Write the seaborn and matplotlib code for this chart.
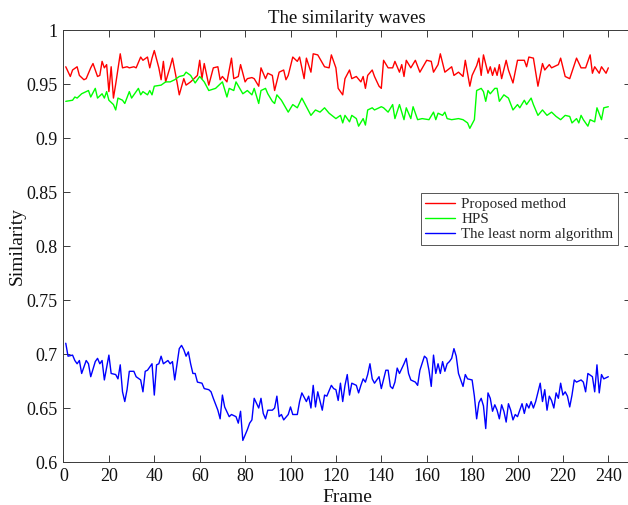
import matplotlib
matplotlib.use("Agg")
import matplotlib.pyplot as plt
import seaborn as sns
import pandas as pd

# ---------------- data ----------------
red_frames = [1, 3, 4, 6, 7, 9, 10, 12, 13, 15, 16, 17, 18, 19, 20, 21, 22, 23, 25, 26,
              28, 29, 31, 32, 34, 35, 37, 38, 39, 40, 42, 43, 44, 45, 47, 48, 50, 51, 53, 54,
              56, 59, 60, 61, 62, 64, 66, 68, 69, 70, 72, 74, 75, 77, 78, 80, 81, 83, 84, 86,
              87, 89, 90, 92, 93, 95, 97, 98, 99, 101, 103, 104, 106, 107, 109, 110, 112, 115, 117, 118,
              120, 121, 123, 124, 126, 127, 129, 131, 132, 133, 134, 136, 137, 139, 140, 141, 143, 145, 146, 148,
              149, 150, 151, 153, 155, 157, 160, 162, 163, 165, 166, 168, 171, 172, 174, 176, 177, 179, 180, 182,
              183, 184, 185, 187, 188, 189, 190, 191, 192, 193, 195, 196, 198, 200, 203, 204, 205, 207, 209, 211,
              212, 214, 215, 218, 219, 221, 223, 226, 228, 230, 232, 233, 234, 236, 237, 239, 240]
red_vals = [0.966, 0.957, 0.963, 0.966, 0.958, 0.954, 0.955, 0.965, 0.969, 0.957, 0.958, 0.971, 0.965, 0.968, 0.943, 0.966, 0.937, 0.950, 0.978, 0.965,
            0.966, 0.965, 0.966, 0.965, 0.975, 0.972, 0.975, 0.965, 0.974, 0.981, 0.965, 0.954, 0.971, 0.952, 0.966, 0.974, 0.952, 0.940, 0.955, 0.949,
            0.952, 0.958, 0.972, 0.955, 0.969, 0.949, 0.965, 0.966, 0.954, 0.957, 0.952, 0.974, 0.955, 0.957, 0.968, 0.952, 0.955, 0.956, 0.955, 0.948,
            0.965, 0.955, 0.960, 0.958, 0.944, 0.961, 0.963, 0.954, 0.958, 0.975, 0.971, 0.975, 0.955, 0.974, 0.961, 0.978, 0.977, 0.966, 0.965, 0.977,
            0.965, 0.946, 0.940, 0.955, 0.963, 0.955, 0.957, 0.952, 0.957, 0.946, 0.958, 0.963, 0.957, 0.948, 0.946, 0.972, 0.965, 0.965, 0.971, 0.961,
            0.968, 0.957, 0.972, 0.965, 0.972, 0.961, 0.972, 0.971, 0.961, 0.968, 0.978, 0.961, 0.966, 0.958, 0.961, 0.957, 0.972, 0.948, 0.958, 0.967,
            0.974, 0.958, 0.977, 0.960, 0.966, 0.958, 0.965, 0.958, 0.968, 0.955, 0.972, 0.963, 0.951, 0.972, 0.972, 0.966, 0.975, 0.974, 0.948, 0.969,
            0.963, 0.968, 0.965, 0.968, 0.974, 0.957, 0.955, 0.974, 0.965, 0.965, 0.977, 0.960, 0.966, 0.960, 0.966, 0.960, 0.965]

green_frames = [1, 4, 5, 6, 8, 10, 11, 12, 14, 15, 17, 18, 19, 20, 22, 23, 24, 26, 27, 29,
                30, 31, 33, 34, 35, 37, 38, 39, 40, 43, 45, 47, 49, 51, 53, 54, 56, 58, 60, 62,
                64, 67, 70, 72, 73, 75, 76, 79, 81, 83, 84, 86, 87, 89, 90, 92, 93, 94, 96, 99,
                101, 103, 105, 107, 109, 111, 113, 115, 117, 120, 122, 123, 124, 126, 127, 129, 130, 132, 133, 134,
                136, 137, 140, 141, 143, 145, 146, 148, 150, 151, 153, 154, 156, 158, 161, 163, 164, 165, 167, 168,
                169, 171, 174, 176, 178, 179, 181, 182, 184, 185, 186, 187, 188, 190, 191, 192, 194, 196, 198, 200,
                201, 203, 204, 206, 207, 209, 211, 213, 215, 217, 219, 221, 223, 224, 226, 227, 228, 229, 231, 232,
                234, 235, 237, 238, 240]
green_vals = [0.934, 0.935, 0.938, 0.937, 0.941, 0.943, 0.944, 0.938, 0.946, 0.937, 0.941, 0.937, 0.943, 0.935, 0.931, 0.926, 0.937, 0.935, 0.932, 0.943,
              0.937, 0.940, 0.946, 0.940, 0.943, 0.940, 0.944, 0.940, 0.948, 0.949, 0.952, 0.952, 0.954, 0.957, 0.958, 0.961, 0.958, 0.951, 0.957, 0.952,
              0.944, 0.946, 0.952, 0.938, 0.946, 0.944, 0.952, 0.941, 0.944, 0.940, 0.946, 0.932, 0.944, 0.946, 0.941, 0.934, 0.932, 0.940, 0.935, 0.924,
              0.931, 0.928, 0.937, 0.929, 0.921, 0.926, 0.924, 0.928, 0.923, 0.918, 0.921, 0.914, 0.921, 0.915, 0.921, 0.918, 0.911, 0.918, 0.912, 0.926,
              0.928, 0.926, 0.929, 0.928, 0.924, 0.931, 0.918, 0.931, 0.917, 0.928, 0.918, 0.929, 0.917, 0.918, 0.917, 0.924, 0.917, 0.923, 0.921, 0.924,
              0.918, 0.917, 0.918, 0.917, 0.914, 0.909, 0.917, 0.944, 0.946, 0.943, 0.934, 0.944, 0.941, 0.946, 0.946, 0.934, 0.940, 0.937, 0.926, 0.931,
              0.928, 0.935, 0.931, 0.937, 0.931, 0.921, 0.926, 0.921, 0.924, 0.920, 0.917, 0.921, 0.920, 0.914, 0.918, 0.914, 0.921, 0.917, 0.911, 0.917,
              0.915, 0.928, 0.917, 0.928, 0.929]

blue_frames = [1, 2, 4, 5, 6, 7, 8, 10, 11, 12, 14, 15, 16, 17, 18, 20, 21, 23, 24, 25,
               26, 27, 28, 29, 31, 32, 34, 35, 36, 37, 39, 40, 41, 42, 43, 44, 46, 47, 48, 49,
               51, 52, 53, 54, 55, 56, 57, 58, 59, 61, 62, 64, 65, 66, 68, 69, 70, 71, 73, 74,
               76, 77, 78, 79, 81, 82, 83, 84, 86, 87, 88, 89, 90, 92, 93, 94, 95, 96, 97, 99,
               100, 101, 103, 104, 105, 107, 108, 109, 110, 111, 112, 114, 115, 116, 118, 119, 120, 121, 122, 123,
               124, 125, 126, 127, 129, 130, 131, 132, 133, 134, 135, 136, 137, 138, 139, 140, 142, 143, 144, 145,
               146, 147, 148, 150, 151, 152, 153, 155, 156, 157, 159, 160, 161, 162, 163, 164, 165, 166, 167, 168,
               169, 170, 171, 172, 173, 174, 175, 176, 177, 178, 180, 181, 182, 183, 184, 185, 186, 187, 188, 189,
               190, 191, 192, 193, 194, 195, 196, 197, 198, 199, 200, 202, 203, 204, 205, 206, 207, 208, 210, 211,
               212, 213, 214, 215, 216, 217, 218, 219, 220, 221, 222, 223, 224, 225, 226, 228, 229, 230, 231, 233,
               234, 235, 236, 237, 238, 240]
blue_vals = [0.710, 0.698, 0.699, 0.694, 0.691, 0.694, 0.682, 0.694, 0.691, 0.679, 0.693, 0.696, 0.691, 0.694, 0.676, 0.699, 0.682, 0.681, 0.677, 0.690,
             0.665, 0.656, 0.667, 0.684, 0.684, 0.679, 0.676, 0.665, 0.684, 0.685, 0.691, 0.662, 0.690, 0.691, 0.698, 0.691, 0.694, 0.691, 0.693, 0.676,
             0.705, 0.708, 0.704, 0.698, 0.702, 0.691, 0.682, 0.682, 0.674, 0.673, 0.668, 0.667, 0.665, 0.659, 0.648, 0.640, 0.662, 0.651, 0.642, 0.644,
             0.642, 0.636, 0.647, 0.620, 0.630, 0.636, 0.639, 0.659, 0.650, 0.659, 0.645, 0.640, 0.648, 0.648, 0.650, 0.661, 0.642, 0.644, 0.639, 0.644,
             0.651, 0.644, 0.644, 0.656, 0.664, 0.656, 0.661, 0.650, 0.671, 0.651, 0.665, 0.648, 0.662, 0.661, 0.671, 0.668, 0.667, 0.657, 0.673, 0.656,
             0.671, 0.681, 0.662, 0.673, 0.671, 0.664, 0.671, 0.677, 0.674, 0.681, 0.691, 0.677, 0.673, 0.676, 0.679, 0.668, 0.685, 0.685, 0.670, 0.668,
             0.674, 0.687, 0.682, 0.691, 0.696, 0.682, 0.676, 0.674, 0.671, 0.685, 0.698, 0.696, 0.685, 0.670, 0.699, 0.682, 0.691, 0.682, 0.693, 0.684,
             0.691, 0.693, 0.696, 0.705, 0.698, 0.682, 0.676, 0.670, 0.681, 0.677, 0.676, 0.661, 0.640, 0.655, 0.659, 0.652, 0.631, 0.664, 0.659, 0.647,
             0.653, 0.648, 0.640, 0.653, 0.647, 0.637, 0.654, 0.648, 0.639, 0.644, 0.642, 0.654, 0.645, 0.654, 0.650, 0.656, 0.650, 0.656, 0.673, 0.656,
             0.667, 0.648, 0.661, 0.657, 0.650, 0.664, 0.659, 0.673, 0.662, 0.665, 0.661, 0.651, 0.662, 0.676, 0.674, 0.676, 0.674, 0.665, 0.682, 0.679,
             0.665, 0.690, 0.664, 0.681, 0.677, 0.679]

series_names = ["Proposed method", "HPS", "The least norm algorithm"]
series_colors = ["#ff0000", "#00ff00", "#0000ff"]
x_ticks = list(range(0, 241, 20))
y_ticks = [0.6, 0.65, 0.7, 0.75, 0.8, 0.85, 0.9, 0.95, 1.0]
y_tick_labels = ["0.6", "0.65", "0.7", "0.75", "0.8", "0.85", "0.9", "0.95", "1"]

# ---------------- styling ----------------
sns.set_style("ticks")
plt.rcParams["font.family"] = ["Liberation Serif", "DejaVu Serif"]

fig = plt.figure(figsize=(6.28, 5.05), dpi=100)
ax = fig.add_axes([0.1011, 0.0851, 0.9037, 0.8554])

frames_all = [red_frames, green_frames, blue_frames]
vals_all = [red_vals, green_vals, blue_vals]
for fr, vv, name, col in zip(frames_all, vals_all, series_names, series_colors):
    df = pd.DataFrame({"Frame": fr, "Similarity": vv})
    sns.lineplot(data=df, x="Frame", y="Similarity", ax=ax, color=col,
                 linewidth=1.0, label=name, estimator=None, sort=False)

ax.set_xlim(0, 250)
ax.set_ylim(0.6, 1.0)
ax.set_xticks(x_ticks)
ax.set_xticklabels([str(t) for t in x_ticks])
ax.set_yticks(y_ticks)
ax.set_yticklabels(y_tick_labels)

edge = "#3a3a3a"
for s in ax.spines.values():
    s.set_visible(True)
    s.set_color(edge)
    s.set_linewidth(0.7)
ax.tick_params(direction="in", length=5, width=0.7, color=edge,
               top=True, right=True, labelsize=13, labelcolor="#111111", pad=4)

ax.set_title("The similarity waves", fontsize=13.5, pad=5, color="#111111")
ax.set_xlabel("Frame", fontsize=14, labelpad=3, color="#111111")
ax.set_ylabel("Similarity", fontsize=14, labelpad=1, color="#111111")

leg = ax.legend(loc="upper right", bbox_to_anchor=(0.977, 0.623), fontsize=10.8,
                frameon=True, fancybox=False, framealpha=1, edgecolor="#555555",
                handlelength=2.0, handletextpad=0.4, borderpad=0.3,
                labelspacing=0.1, borderaxespad=0.0)
leg.get_frame().set_linewidth(0.7)

fig.savefig("out.png", dpi=100)
